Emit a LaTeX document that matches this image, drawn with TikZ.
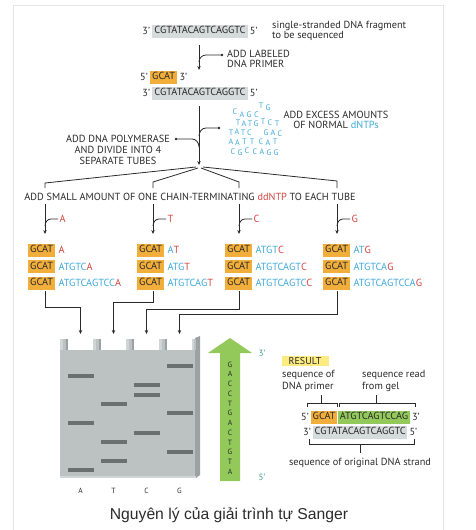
\documentclass[tikz,border=0pt]{standalone}
\usepackage{fontspec}
\setmainfont{PT Sans}
\newfontfamily\capfont{Liberation Sans}
\usetikzlibrary{arrows.meta}
\definecolor{txt}{HTML}{2A2A2A}
\definecolor{cy}{HTML}{3FA9D8}
\definecolor{rd}{HTML}{D2453F}
\definecolor{orng}{HTML}{F2AE3A}
\definecolor{gbox}{HTML}{D5DADA}
\definecolor{grn}{HTML}{93C85B}
\definecolor{ylw}{HTML}{FCEB80}
\definecolor{tealc}{HTML}{3A9C8C}
\definecolor{gelc}{HTML}{BCC2C2}
\definecolor{geld}{HTML}{9CA2A2}
\definecolor{gell}{HTML}{D0D5D5}
\definecolor{band}{HTML}{6A7070}
\definecolor{frame}{HTML}{E6E6E6}
\newcommand{\fs}{\fontsize{10.3}{10.3}\selectfont}
\tikzset{
  seq/.style={inner xsep=2pt, inner ysep=1.8pt, text height=7.6pt, text depth=1.8pt, text=txt, font=\fs},
  pl/.style={inner sep=1pt, text=txt, font=\fs},
  lbl/.style={inner sep=0pt, text=txt, font=\fs},
  arr/.style={-{Stealth[length=4pt,width=3.4pt]}, line width=0.8pt, draw=txt},
  ln/.style={line width=0.8pt, draw=txt},
  thin/.style={line width=0.6pt, draw=txt},
  dn/.style={inner sep=0pt, text=cy, font=\fontsize{8}{8}\selectfont},
}
\begin{document}
\begin{tikzpicture}[x=1pt,y=-1pt]
\useasboundingbox (0,0) rectangle (475,530);
\draw[frame, line width=0.8pt] (13,5) rectangle (443,540);

% top strand
\node[seq,fill=gbox] (s1) at (200,31) {CGTATACAGTCAGGTC};
\node[pl,anchor=east] (s1l) at ([xshift=-1pt]s1.west) {3’};
\node[pl,anchor=west] (s1r) at ([xshift=1pt]s1.east) {5’};
\node[lbl,anchor=west,align=left,font=\fontsize{10.3}{10}\selectfont] (s1t) at (272,31) {single-stranded DNA fragment\\to be sequenced};

\coordinate (a1s) at (199,45); \coordinate (a1e) at (199,70);
\draw[arr] (a1s) -- (a1e);
\coordinate (j1) at (222,55); \coordinate (j1m) at (206,55); \coordinate (j1e) at (199,62);
\draw[ln] (j1) -- (j1m) to[out=180,in=90] (j1e);
\fill[txt] (j1) circle (1.3);
\node[lbl,anchor=west,align=left,font=\fontsize{10.3}{10}\selectfont] (l1) at (227,59) {ADD LABELED\\DNA PRIMER};

% primer + strand
\node[seq,fill=orng,anchor=west] (p) at (150,77) {GCAT};
\node[pl,anchor=east] (pl) at ([xshift=-1pt]p.west) {5’};
\node[pl,anchor=west] (pr) at ([xshift=1pt]p.east) {3’};
\node[seq,fill=gbox] (s2) at (200,93) {CGTATACAGTCAGGTC};
\node[pl,anchor=east] (s2l) at ([xshift=-1pt]s2.west) {3’};
\node[pl,anchor=west] (s2r) at ([xshift=1pt]s2.east) {5’};

% main arrow 2
\coordinate (a2s) at (199,106); \coordinate (a2e) at (199,165);
\draw[arr] (a2s) -- (a2e);
\coordinate (j2) at (219,128); \coordinate (j2m) at (206,128); \coordinate (j2e) at (199,136);
\draw[ln] (j2) -- (j2m) to[out=180,in=90] (j2e);
\fill[txt] (j2) circle (1.3);
\coordinate (j3) at (176,139); \coordinate (j3m) at (192,139); \coordinate (j3e) at (199,147);
\draw[ln] (j3) -- (j3m) to[out=0,in=90] (j3e);
\fill[txt] (j3) circle (1.3);
\node[lbl,align=center,font=\fontsize{10.3}{11}\selectfont] (l2) at (118,150) {ADD DNA POLYMERASE\\AND DIVIDE INTO 4\\SEPARATE TUBES};
\node[lbl,align=center,font=\fontsize{10.3}{10}\selectfont] (l3) at (336,120) {ADD EXCESS AMOUNTS\\OF NORMAL \textcolor{cy}{dNTPs}};

% dNTP cloud
\foreach \x/\y/\l [count=\i] in {
  235/112/C,242/114.5/A,249/114.5/G,256.5/115/C,261/105.5/T,268/108/G,
  238/123/T,244/123.5/A,250/124/T,256/124/G,263/122/T,270/123/C,277/124/T,
  231/132.5/T,237/132/A,243/132.5/T,249.5/133/C,266/132.5/G,273/133/A,280/133.5/C,
  231/142/A,237.5/142.5/A,244.5/141.5/T,252/141.5/T,261/142/C,268/142.5/A,275/142/T,
  233/151.5/C,240/152.5/G,247/151/C,255/151.5/C,262/152/A,269/152.5/G,276/153/G}
  \node[dn] (d\i) at (\x,\y) {\l};

% fan
\coordinate (f1) at (196,167); \coordinate (f2) at (198,168);
\coordinate (f3) at (201,168); \coordinate (f4) at (203,167);
\foreach \k/\xx/\yy in {1/45/183,2/153/182,3/239/182,4/337/181}{
  \coordinate (fc\k) at (\xx,\yy); \coordinate (fe\k) at (\xx,188);
  \draw[ln] (f\k) -- (fc\k) -- (fe\k);
}
\node[lbl] (dd) at (190,196.5) {ADD SMALL AMOUNT OF ONE CHAIN-TERMINATING \textcolor{rd}{ddNTP} TO EACH TUBE};

% tube arrows
\foreach \k/\xx/\l in {1/45/A,2/153/T,3/239/C,4/337/G}{
  \coordinate (ta\k) at (\xx,204); \coordinate (tb\k) at (\xx,234);
  \draw[arr] (ta\k) -- (tb\k);
  \coordinate (tj\k) at (\xx,226); \coordinate (tk\k) at (\xx+6,219); \coordinate (tm\k) at (\xx+13,219);
  \draw[ln] (tj\k) to[out=90,in=180] (tk\k) -- (tm\k);
  \node[lbl,anchor=west,text=rd] (tl\k) at ([xshift=1.5pt]tm\k) {\l};
}

% tube contents
\newcommand{\tuberow}[4]{% name, x, y, content
  \node[seq,fill=orng,anchor=west] (#1) at (#2,#3) {GCAT};
  \node[pl,anchor=west] (#1s) at ([xshift=2pt]#1.east) {#4};
}
\tuberow{t11}{28}{250}{\textcolor{rd}{A}}
\tuberow{t12}{28}{266.5}{\textcolor{cy}{ATGTC}\textcolor{rd}{A}}
\tuberow{t13}{28}{283}{\textcolor{cy}{ATGTCAGTCC}\textcolor{rd}{A}}
\tuberow{t21}{137}{250}{\textcolor{cy}{A}\textcolor{rd}{T}}
\tuberow{t22}{137}{266.5}{\textcolor{cy}{ATG}\textcolor{rd}{T}}
\tuberow{t23}{137}{283}{\textcolor{cy}{ATGTCAG}\textcolor{rd}{T}}
\tuberow{t31}{225}{250}{\textcolor{cy}{ATGT}\textcolor{rd}{C}}
\tuberow{t32}{225}{266.5}{\textcolor{cy}{ATGTCAGT}\textcolor{rd}{C}}
\tuberow{t33}{225}{283}{\textcolor{cy}{ATGTCAGTC}\textcolor{rd}{C}}
\tuberow{t41}{323}{250}{\textcolor{cy}{AT}\textcolor{rd}{G}}
\tuberow{t42}{323}{266.5}{\textcolor{cy}{ATGTCA}\textcolor{rd}{G}}
\tuberow{t43}{323}{283}{\textcolor{cy}{ATGTCAGTCCA}\textcolor{rd}{G}}

% lines to gel
\foreach \k/\xa/\ya/\xb in {1/45/307/80.5,2/153/302/113.5,3/239/309/146.5,4/337/314/179.5}{
  \coordinate (ga\k) at (\xa,291); \coordinate (gb\k) at (\xa,\ya);
  \coordinate (gc\k) at (\xb,\ya); \coordinate (gd\k) at (\xb,334);
  \draw[arr] (ga\k) -- (gb\k) -- (gc\k) -- (gd\k);
}

% gel
\fill[gelc] (60,350) rectangle (196,478);
\fill[geld] (195,338) -- (200,336) -- (200,475) -- (196,478) -- (195,478) -- cycle;
\foreach \tx in {60,93,126,159}{
  \fill[gelc] (\tx,339) rectangle (\tx+8,350);
  \fill[gell] (\tx,339) rectangle (\tx+2.5,350);
  \fill[geld] (\tx+6,339) rectangle (\tx+8,350);
}
\fill[gelc] (192,339) rectangle (196,350);
\fill[gell] (192,339) rectangle (194,350);
\fill[gell] (60,476) rectangle (196,478);
\foreach \cx/\by in {80.5/376,80.5/423,80.5/470,
  113.5/404,113.5/442,113.5/461,
  146.5/385,146.5/395,146.5/433,
  179.5/366,179.5/413,179.5/452}
  \fill[band] (\cx-13,\by-1.8) rectangle (\cx+13,\by+1.8);
\foreach \cx/\l in {80.5/A,113.5/T,146.5/C,179.5/G}
  \node[lbl,font=\fontsize{7.5}{8}\selectfont] (lane\l) at (\cx,491) {\l};

% green arrow
\fill[grn] (220,481) -- (220,353) -- (208,353) -- (230,338) -- (252,353) -- (240,353) -- (240,481) -- cycle;
\foreach \l [count=\i] in {G,A,C,C,T,G,A,C,T,G,T,A}
  \node[lbl,font=\fontsize{7.6}{8}\selectfont] (gl\i) at (230,{364.5+(\i-1)*9.75}) {\l};
\node[lbl,text=tealc,font=\fontsize{9}{9}\selectfont] (p3) at (262,353) {3’};
\node[lbl,text=tealc,font=\fontsize{9}{9}\selectfont] (p5) at (262,477) {5’};

% result
\node[fill=ylw,inner xsep=3pt,inner ysep=1.6pt,text=txt,font=\fontsize{10}{10}\selectfont,minimum width=47pt] (res) at (305,361) {RESULT};
\node[lbl,anchor=west,align=left,font=\fontsize{10.3}{11.5}\selectfont] (rp) at (282,381) {sequence of\\DNA primer};
\node[lbl,anchor=west,align=left,font=\fontsize{10.3}{11.5}\selectfont] (rg) at (362,381) {sequence read\\from gel};
\coordinate (b1a) at (307,407); \coordinate (b1b) at (307,403); \coordinate (b1c) at (337,403); \coordinate (b1d) at (337,407);
\draw[thin] (b1a) -- (b1b) -- (b1c) -- (b1d);
\coordinate (b1t) at (321,403); \coordinate (b1u) at (321,395);
\draw[thin] (b1t) -- (b1u);
\coordinate (b2a) at (339,407); \coordinate (b2b) at (339,403); \coordinate (b2c) at (415,403); \coordinate (b2d) at (415,407);
\draw[thin] (b2a) -- (b2b) -- (b2c) -- (b2d);
\coordinate (b2t) at (376,403); \coordinate (b2u) at (376,395);
\draw[thin] (b2t) -- (b2u);

\node[seq,fill=orng,anchor=west,inner xsep=1.5pt] (rgc) at (311,417) {GCAT};
\node[seq,fill=grn,anchor=west,inner xsep=1.5pt] (rsq) at ([xshift=0.8pt]rgc.east) {ATGTCAGTCCAG};
\node[pl,anchor=east] (rl5) at ([xshift=-1pt]rgc.west) {5’};
\node[pl,anchor=west] (rr3) at ([xshift=1pt]rsq.east) {3’};
\node[seq,fill=gbox,anchor=west,inner xsep=1.5pt] (rb) at (313,432) {CGTATACAGTCAGGTC};
\node[pl,anchor=east] (rl3) at ([xshift=-1pt]rb.west) {3’};
\node[pl,anchor=west] (rr5) at ([xshift=1pt]rb.east) {5’};
\coordinate (b3a) at (309,439); \coordinate (b3b) at (309,444); \coordinate (b3c) at (414,444); \coordinate (b3d) at (414,439);
\draw[thin] (b3a) -- (b3b) -- (b3c) -- (b3d);
\coordinate (b3t) at (360,444); \coordinate (b3u) at (360,453);
\draw[thin] (b3t) -- (b3u);
\node[lbl] (ro) at (360,463) {sequence of original DNA strand};

% caption
\node[inner sep=0pt,text=txt,font=\capfont\fontsize{15.7}{17}\selectfont] (cap) at (229,515) {Nguyên lý của giải trình tự Sanger};
\end{tikzpicture}
\end{document}
